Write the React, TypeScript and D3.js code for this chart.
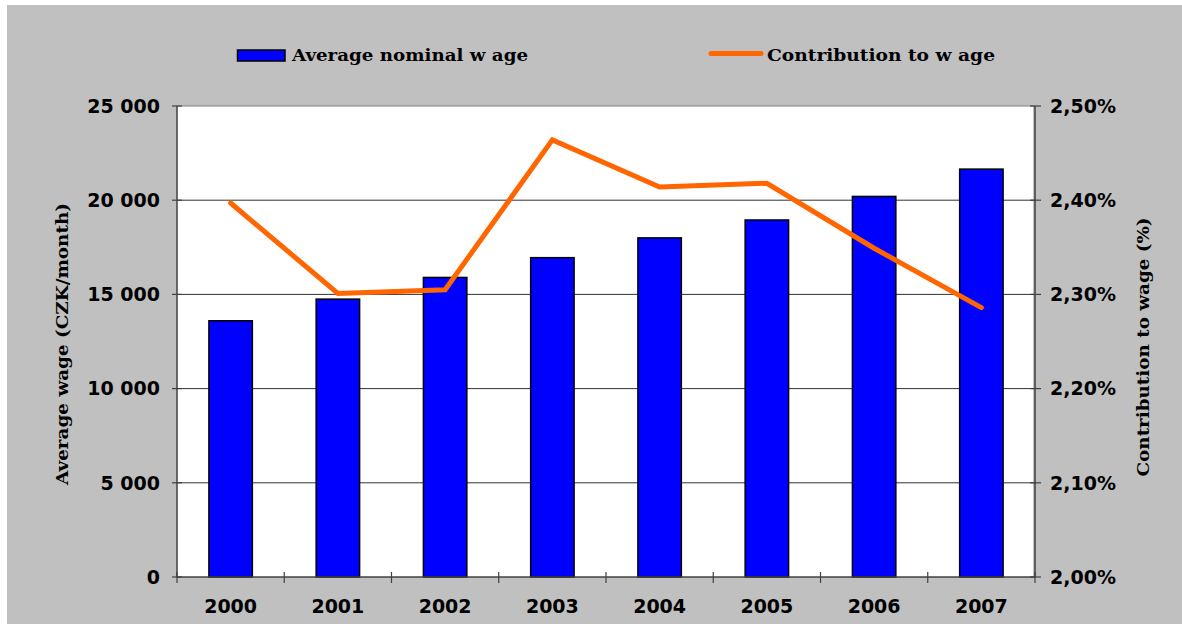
import React from "react";
import * as d3 from "d3";

// data
const years = ["2000", "2001", "2002", "2003", "2004", "2005", "2006", "2007"];
const avgWage = [13600, 14750, 15900, 16950, 18000, 18950, 20200, 21650];
const contribution = [2.397, 2.301, 2.305, 2.464, 2.414, 2.418, 2.349, 2.286];
const leftTicks = [0, 5000, 10000, 15000, 20000, 25000];
const rightTicks = [2.0, 2.1, 2.2, 2.3, 2.4, 2.5];

const W = 1182;
const H = 624;
const plot = { left: 177, right: 1035, top: 106, bottom: 577 };

const numFont = "'DejaVu Sans', Verdana, sans-serif";
const textFont = "'DejaVu Serif', 'Liberation Serif', serif";

const fmtLeft = (v: number) => (v === 0 ? "0" : d3.format(",")(v).replace(",", " "));
const fmtRight = (v: number) => v.toFixed(2).replace(".", ",") + "%";

export default function App() {
  const x = d3.scaleBand<string>().domain(years).range([plot.left, plot.right]);
  const yL = d3.scaleLinear().domain([0, 25000]).range([plot.bottom, plot.top]);
  const yR = d3.scaleLinear().domain([2.0, 2.5]).range([plot.bottom, plot.top]);
  const barW = x.bandwidth() * 0.405;

  const line = d3
    .line<number>()
    .x((_, i) => (x(years[i]) as number) + x.bandwidth() / 2)
    .y((d) => yR(d));

  return (
    <div style={{ position: "absolute", left: 0, top: 0 }}>
      <svg width={W} height={H} style={{ display: "block" }}>
        <rect x={0} y={0} width={W} height={H} fill="#ffffff" />
        <rect x={7} y={5} width={W - 7} height={H - 5} fill="#c0c0c0" />
        <rect
          x={plot.left}
          y={plot.top}
          width={plot.right - plot.left - 2}
          height={plot.bottom - plot.top}
          fill="#ffffff"
        />
        <line x1={plot.left} x2={plot.right} y1={plot.top} y2={plot.top} stroke="#808080" strokeWidth={1.2} />

        {/* gridlines */}
        {leftTicks.slice(1, -1).map((t) => (
          <line key={"g" + t} x1={plot.left} x2={plot.right} y1={yL(t)} y2={yL(t)} stroke="#333" strokeWidth={1} />
        ))}

        {/* bars */}
        {avgWage.map((v, i) => (
          <rect
            key={years[i]}
            x={(x(years[i]) as number) + x.bandwidth() / 2 - barW / 2}
            y={yL(v)}
            width={barW}
            height={plot.bottom - yL(v)}
            fill="#0000ff"
            stroke="#000"
            strokeWidth={1.5}
          />
        ))}

        {/* axes */}
        <line x1={plot.left} x2={plot.left} y1={plot.top} y2={plot.bottom} stroke="#404040" strokeWidth={1.5} />
        <line x1={plot.right} x2={plot.right} y1={plot.top} y2={plot.bottom} stroke="#404040" strokeWidth={1.5} />
        <line x1={plot.left} x2={plot.right} y1={plot.bottom} y2={plot.bottom} stroke="#404040" strokeWidth={1.5} />

        {leftTicks.map((t) => (
          <g key={"l" + t}>
            <line x1={plot.left - 5} x2={plot.left + 5} y1={yL(t)} y2={yL(t)} stroke="#404040" strokeWidth={1.2} />
            <text
              x={160}
              y={yL(t)}
              dy="0.36em"
              textAnchor="end"
              fontFamily={numFont}
              fontWeight="bold"
              fontSize={19}
              fill="#000"
            >
              {fmtLeft(t)}
            </text>
          </g>
        ))}

        {rightTicks.map((t) => (
          <g key={"r" + t}>
            <line x1={plot.right - 5} x2={plot.right + 6} y1={yR(t)} y2={yR(t)} stroke="#404040" strokeWidth={1.2} />
            <text
              x={1050}
              y={yR(t)}
              dy="0.36em"
              textAnchor="start"
              fontFamily={numFont}
              fontWeight="bold"
              fontSize={19}
              fill="#000"
            >
              {fmtRight(t)}
            </text>
          </g>
        ))}

        {years.map((yr) => (
          <g key={"x" + yr}>
            <line
              x1={x(yr) as number}
              x2={x(yr) as number}
              y1={plot.bottom - 5}
              y2={plot.bottom + 6}
              stroke="#404040"
              strokeWidth={1.2}
            />
            <text
              x={(x(yr) as number) + x.bandwidth() / 2}
              y={613}
              textAnchor="middle"
              fontFamily={numFont}
              fontWeight="bold"
              fontSize={19}
              fill="#000"
            >
              {yr}
            </text>
          </g>
        ))}
        <line x1={plot.right} x2={plot.right} y1={plot.bottom - 5} y2={plot.bottom + 6} stroke="#404040" strokeWidth={1.2} />

        {/* contribution line */}
        <path
          d={line(contribution) || ""}
          fill="none"
          stroke="#ff6600"
          strokeWidth={5}
          strokeLinejoin="miter"
          strokeLinecap="round"
        />

        {/* axis titles */}
        <text
          transform={`translate(68,344) rotate(-90)`}
          textAnchor="middle"
          fontFamily={textFont}
          fontWeight="bold"
          fontSize={17}
          textLength={282}
          lengthAdjust="spacingAndGlyphs"
          fill="#000"
        >
          Average wage (CZK/month)
        </text>
        <text
          transform={`translate(1149,347) rotate(-90)`}
          textAnchor="middle"
          fontFamily={textFont}
          fontWeight="bold"
          fontSize={17}
          textLength={259}
          lengthAdjust="spacingAndGlyphs"
          fill="#000"
        >
          Contribution to wage (%)
        </text>

        {/* legend */}
        <rect x={237.5} y={50} width={47.5} height={11} fill="#0000ff" stroke="#000" strokeWidth={1.5} />
        <text
          x={292}
          y={61}
          fontFamily={textFont}
          fontWeight="bold"
          fontSize={17}
          textLength={236}
          lengthAdjust="spacingAndGlyphs"
          fill="#000"
        >
          Average nominal w age
        </text>
        <line x1={711} x2={761} y1={53.5} y2={53.5} stroke="#ff6600" strokeWidth={5} strokeLinecap="round" />
        <text
          x={767}
          y={61}
          fontFamily={textFont}
          fontWeight="bold"
          fontSize={17}
          textLength={228}
          lengthAdjust="spacingAndGlyphs"
          fill="#000"
        >
          Contribution to w age
        </text>
      </svg>
    </div>
  );
}
